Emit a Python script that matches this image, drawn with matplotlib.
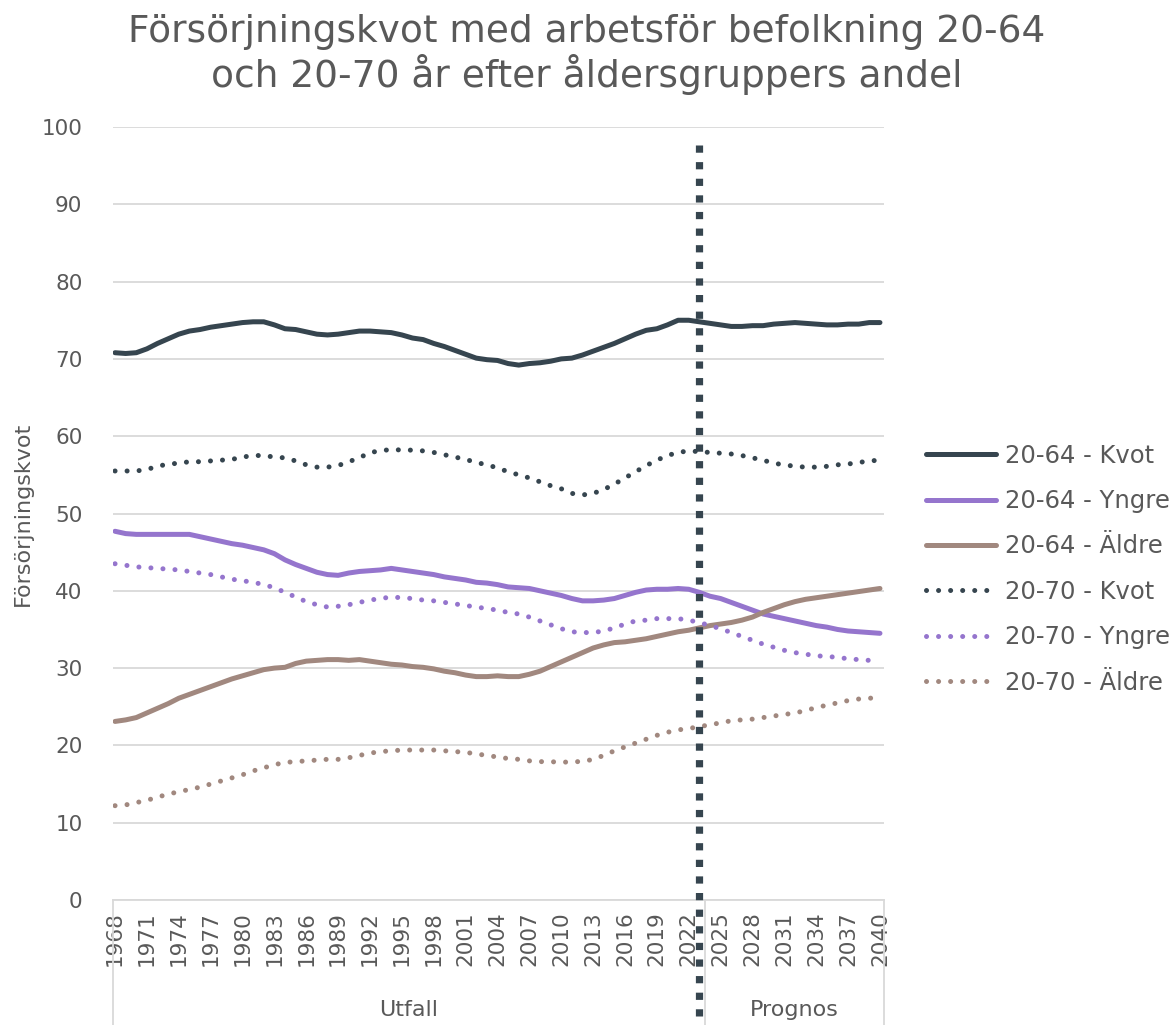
import numpy as np
import matplotlib.pyplot as plt

# data
years = list(range(1968, 2041))
split_year = 2023  # last year of "Utfall"

kvot_64 = [70.8, 70.7, 70.8, 71.3, 72.0, 72.6, 73.2, 73.6, 73.8, 74.1,
           74.3, 74.5, 74.7, 74.8, 74.8, 74.4, 73.9, 73.8, 73.5, 73.2,
           73.1, 73.2, 73.4, 73.6, 73.6, 73.5, 73.4, 73.1, 72.7, 72.5,
           72.0, 71.6, 71.1, 70.6, 70.1, 69.9, 69.8, 69.4, 69.2, 69.4,
           69.5, 69.7, 70.0, 70.1, 70.5, 71.0, 71.5, 72.0, 72.6, 73.2,
           73.7, 73.9, 74.4, 75.0, 75.0, 74.8, 74.6, 74.4, 74.2, 74.2,
           74.3, 74.3, 74.5, 74.6, 74.7, 74.6, 74.5, 74.4, 74.4, 74.5,
           74.5, 74.7, 74.7]
yngre_64 = [47.7, 47.4, 47.3, 47.3, 47.3, 47.3, 47.3, 47.3, 47.0, 46.7,
            46.4, 46.1, 45.9, 45.6, 45.3, 44.8, 44.0, 43.4, 42.9, 42.4,
            42.1, 42.0, 42.3, 42.5, 42.6, 42.7, 42.9, 42.7, 42.5, 42.3,
            42.1, 41.8, 41.6, 41.4, 41.1, 41.0, 40.8, 40.5, 40.4, 40.3,
            40.0, 39.7, 39.4, 39.0, 38.7, 38.7, 38.8, 39.0, 39.4, 39.8,
            40.1, 40.2, 40.2, 40.3, 40.2, 39.8, 39.3, 39.0, 38.5, 38.0,
            37.5, 37.0, 36.7, 36.4, 36.1, 35.8, 35.5, 35.3, 35.0, 34.8,
            34.7, 34.6, 34.5]
aldre_64 = [23.1, 23.3, 23.6, 24.2, 24.8, 25.4, 26.1, 26.6, 27.1, 27.6,
            28.1, 28.6, 29.0, 29.4, 29.8, 30.0, 30.1, 30.6, 30.9, 31.0,
            31.1, 31.1, 31.0, 31.1, 30.9, 30.7, 30.5, 30.4, 30.2, 30.1,
            29.9, 29.6, 29.4, 29.1, 28.9, 28.9, 29.0, 28.9, 28.9, 29.2,
            29.6, 30.2, 30.8, 31.4, 32.0, 32.6, 33.0, 33.3, 33.4, 33.6,
            33.8, 34.1, 34.4, 34.7, 34.9, 35.2, 35.5, 35.7, 35.9, 36.2,
            36.6, 37.2, 37.7, 38.2, 38.6, 38.9, 39.1, 39.3, 39.5, 39.7,
            39.9, 40.1, 40.3]
kvot_70 = [55.5, 55.5, 55.5, 55.7, 56.1, 56.4, 56.5, 56.7, 56.7, 56.8,
           56.9, 57.0, 57.3, 57.5, 57.5, 57.3, 57.2, 56.8, 56.3, 56.0,
           56.0, 56.2, 56.7, 57.2, 57.9, 58.1, 58.3, 58.2, 58.2, 58.1,
           57.9, 57.6, 57.3, 57.0, 56.6, 56.3, 55.9, 55.4, 55.0, 54.6,
           54.1, 53.6, 53.2, 52.6, 52.4, 52.6, 53.1, 53.8, 54.6, 55.4,
           56.2, 56.9, 57.5, 57.9, 58.1, 58.0, 57.9, 57.8, 57.7, 57.5,
           57.2, 56.9, 56.5, 56.3, 56.1, 56.0, 56.0, 56.1, 56.3, 56.4,
           56.6, 56.8, 56.9]
yngre_70 = [43.5, 43.3, 43.1, 43.0, 42.9, 42.8, 42.7, 42.5, 42.3, 42.1,
            41.8, 41.5, 41.3, 41.1, 40.8, 40.4, 39.8, 39.2, 38.6, 38.2,
            37.9, 38.0, 38.2, 38.5, 38.8, 39.0, 39.2, 39.1, 39.0, 38.8,
            38.7, 38.5, 38.3, 38.1, 37.9, 37.7, 37.5, 37.2, 37.0, 36.6,
            36.1, 35.6, 35.1, 34.7, 34.6, 34.6, 34.8, 35.2, 35.7, 36.1,
            36.2, 36.4, 36.4, 36.4, 36.2, 35.9, 35.5, 35.1, 34.6, 34.1,
            33.6, 33.1, 32.7, 32.3, 32.0, 31.8, 31.6, 31.5, 31.4, 31.2,
            31.1, 31.0, 30.9]
aldre_70 = [12.2, 12.3, 12.6, 12.9, 13.3, 13.7, 14.0, 14.3, 14.6, 15.0,
            15.4, 15.8, 16.2, 16.7, 17.1, 17.5, 17.8, 17.9, 18.0, 18.1,
            18.2, 18.2, 18.4, 18.7, 19.0, 19.2, 19.3, 19.4, 19.4, 19.4,
            19.4, 19.3, 19.2, 19.1, 18.9, 18.7, 18.5, 18.3, 18.2, 18.0,
            17.9, 17.9, 17.8, 17.9, 17.9, 18.2, 18.7, 19.3, 19.8, 20.3,
            20.8, 21.3, 21.7, 22.0, 22.2, 22.4, 22.7, 22.9, 23.2, 23.3,
            23.4, 23.6, 23.8, 24.0, 24.2, 24.5, 24.9, 25.2, 25.5, 25.8,
            26.0, 26.1, 26.2]

labels = ['20-64 - Kvot', '20-64 - Yngre', '20-64 - Äldre',
          '20-70 - Kvot', '20-70 - Yngre', '20-70 - Äldre']
groups = ['Utfall', 'Prognos']

dark = '#36454F'
purple = '#9575CD'
brown = '#A1887F'
grey_txt = '#595959'
grid_c = '#D9D9D9'

plt.rcParams['font.family'] = 'DejaVu Sans'

fig = plt.figure(figsize=(11.73, 10.25), dpi=100)
ax = fig.add_axes([113/1173, 125/1025, 771/1173, 773/1025])

x = np.arange(len(years))
solid = dict(lw=3.6, solid_capstyle='round')
dotted = dict(lw=3.6, linestyle=(0, (0.01, 2.4)), dash_capstyle='round')

series = [(kvot_64, dark, solid), (yngre_64, purple, solid), (aldre_64, brown, solid),
          (kvot_70, dark, dotted), (yngre_70, purple, dotted), (aldre_70, brown, dotted)]
for (vals, col, st), lab in zip(series, labels):
    ax.plot(x, vals, color=col, label=lab, **st)

# vertical marker between Utfall and Prognos
xs = years.index(split_year)
ax.plot([xs, xs], [97.7, -16], color=dark, lw=5.2, linestyle=(0, (1.0, 1.3)),
        clip_on=False, zorder=5)

ax.set_xlim(-0.19, 72.38)
ax.set_ylim(0, 100)
ax.set_yticks(range(0, 101, 10))
ax.set_xticks(x[::3])
ax.set_xticklabels([str(y) for y in years[::3]], rotation=90)
ax.tick_params(axis='both', length=0, labelsize=15.5, colors=grey_txt)
ax.tick_params(axis='y', pad=22)
ax.tick_params(axis='x', pad=8)
ax.grid(axis='y', color=grid_c, lw=1.3)
ax.set_axisbelow(True)
for s in ['top', 'right', 'left']:
    ax.spines[s].set_visible(False)
ax.spines['bottom'].set_color(grid_c)
ax.spines['bottom'].set_linewidth(1.3)

ax.set_ylabel('Försörjningskvot', fontsize=16, color=grey_txt, labelpad=6)

# category group brackets below the axis
trans = ax.get_xaxis_transform()
for xb in [-0.19, xs + 0.5, 72.38]:
    ax.plot([xb, xb], [0, -0.165], color=grid_c, lw=1.3, transform=trans, clip_on=False)
ax.text((-0.19 + xs + 0.5) / 2, -0.142, groups[0], transform=trans, ha='center',
        va='center', fontsize=16, color=grey_txt)
ax.text((xs + 0.5 + 72.38) / 2, -0.142, groups[1], transform=trans, ha='center',
        va='center', fontsize=16, color=grey_txt)

fig.suptitle('Försörjningskvot med arbetsför befolkning 20-64\noch 20-70 år efter åldersgruppers andel',
             fontsize=27, color=grey_txt, y=0.986, linespacing=1.1)

ax.legend(loc='center left', bbox_to_anchor=(1.026, 0.428), frameon=False,
          fontsize=17.5, labelcolor=grey_txt, handlelength=2.9, handletextpad=0.35,
          labelspacing=0.88)

fig.savefig('out.png', dpi=100)
